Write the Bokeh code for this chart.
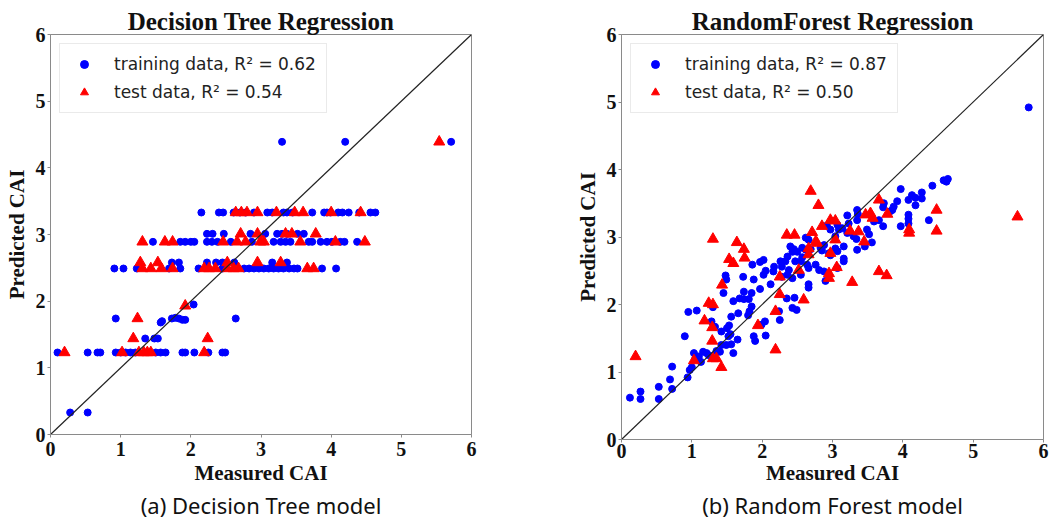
from bokeh.plotting import figure
from bokeh.layouts import row
from bokeh.models import Title, Legend, LegendItem, FixedTicker, Range1d
from bokeh.embed import file_html
from bokeh.resources import INLINE

axis_ticks = [0, 1, 2, 3, 4, 5, 6]
diag = [0, 6]

# ---------------- Decision Tree (left) ----------------
dt_train_x = [3.30, 4.20, 5.71,
              2.15, 2.40, 2.46, 2.61, 2.70, 2.78, 2.90, 3.09, 3.16, 3.32, 3.37, 3.45, 3.73, 3.90, 3.94, 3.99, 4.10, 4.16, 4.25, 4.40, 4.56, 4.63,
              2.23, 2.31, 2.47, 2.85, 3.06, 3.23, 3.30, 3.37, 3.52, 3.61,
              1.46, 1.85, 1.92, 2.00, 2.05, 2.23, 2.30, 2.38, 2.57, 2.87, 3.18, 3.28, 3.35, 3.42, 3.68, 3.73, 3.85, 3.94, 4.01, 4.13, 4.19, 4.37,
              1.73, 1.83, 2.23, 2.36, 2.45, 2.62, 3.16, 3.37,
              0.91, 1.04, 1.23, 1.69, 1.85, 2.11, 2.45, 2.76, 2.83, 2.90, 2.97, 3.04, 3.11, 3.18, 3.25, 3.32, 3.40, 3.47, 3.52, 3.87, 4.07,
              2.04, 0.93, 2.64, 1.73, 1.78, 1.83, 1.88, 1.92, 1.57, 1.59, 1.35, 1.48, 1.53,
              0.10, 0.53, 0.67, 0.71, 0.93, 1.00, 1.07, 1.14, 1.21, 1.50, 1.57, 1.64, 1.88, 1.92, 2.05, 2.25, 2.45, 2.49,
              0.28, 0.53]
dt_train_y = [4.39, 4.39, 4.39,
              3.33, 3.33, 3.33, 3.33, 3.33, 3.33, 3.33, 3.33, 3.33, 3.33, 3.33, 3.33, 3.33, 3.33, 3.33, 3.33, 3.33, 3.33, 3.33, 3.33, 3.33, 3.33,
              3.01, 3.01, 3.01, 3.01, 3.01, 3.01, 3.01, 3.01, 3.01, 3.01,
              2.89, 2.89, 2.89, 2.89, 2.89, 2.89, 2.89, 2.89, 2.89, 2.89, 2.89, 2.89, 2.89, 2.89, 2.89, 2.89, 2.89, 2.89, 2.89, 2.89, 2.89, 2.89,
              2.58, 2.58, 2.58, 2.58, 2.58, 2.58, 2.58, 2.58,
              2.49, 2.49, 2.49, 2.49, 2.49, 2.49, 2.49, 2.49, 2.49, 2.49, 2.49, 2.49, 2.49, 2.49, 2.49, 2.49, 2.49, 2.49, 2.49, 2.49, 2.49,
              1.95, 1.74, 1.74, 1.74, 1.75, 1.74, 1.72, 1.72, 1.68, 1.70, 1.44, 1.44, 1.44,
              1.23, 1.23, 1.23, 1.23, 1.23, 1.23, 1.23, 1.23, 1.23, 1.23, 1.23, 1.23, 1.23, 1.23, 1.23, 1.23, 1.23, 1.23,
              0.33, 0.33]

dt_test_x = [5.54,
             2.64, 2.72, 2.80, 2.95, 3.22, 3.48, 3.60, 4.00, 4.42,
             2.71, 2.95, 3.35, 3.44, 3.78,
             1.31, 1.63, 1.74, 2.46, 2.66, 2.78, 2.99, 3.04, 3.56, 4.06, 4.48,
             1.28, 1.53, 2.52, 2.95, 3.28,
             1.31, 1.43, 1.58, 1.74, 2.19, 2.26, 2.35, 2.52, 2.61, 2.68, 3.66, 3.75,
             1.92, 1.24, 1.18, 2.24,
             0.20, 1.02, 1.26, 1.33, 1.38, 1.43, 2.19]
dt_test_y = [4.39,
             3.33, 3.33, 3.33, 3.33, 3.33, 3.33, 3.33, 3.33, 3.33,
             3.01, 3.01, 3.01, 3.01, 3.01,
             2.89, 2.89, 2.89, 2.89, 2.89, 2.89, 2.89, 2.89, 2.89, 2.89, 2.89,
             2.58, 2.58, 2.58, 2.58, 2.58,
             2.49, 2.49, 2.49, 2.49, 2.49, 2.49, 2.49, 2.49, 2.49, 2.49, 2.49, 2.49,
             1.93, 1.74, 1.44, 1.44,
             1.23, 1.23, 1.23, 1.23, 1.23, 1.23, 1.23]

# ---------------- Random Forest (right) ----------------
rf_train_x = [0.12, 0.27, 0.27, 0.53, 0.53, 0.69, 0.72, 0.72, 0.94, 0.97, 1.00, 1.03, 1.10, 1.16, 1.21, 1.24,
              1.35, 1.40, 1.42, 1.49, 1.56, 1.65, 1.59, 1.52, 1.53, 0.90, 0.95, 1.07, 1.30, 1.28, 1.33, 1.42,
              1.56, 1.59, 1.68, 1.74, 1.81, 1.85, 1.82, 1.80, 1.66, 1.90, 2.05, 2.04, 2.24, 2.25, 2.35, 2.46,
              2.49, 1.85, 1.45, 1.88, 1.55, 1.50, 2.43, 1.99, 1.05, 1.13,
              3.35, 3.36, 3.35, 3.21, 3.23, 3.07, 3.09, 3.04, 3.14, 2.92, 2.97, 3.21, 3.30, 3.34, 3.35, 3.16,
              3.04, 3.07, 2.95, 2.97, 3.16, 3.16, 3.07, 2.83, 2.88, 2.85, 2.62, 2.66, 2.57, 2.62, 2.69, 2.40,
              2.45, 2.43, 2.50, 2.55, 2.57, 2.47, 2.36, 2.33, 2.26, 2.28, 2.38, 2.64, 2.66, 2.76, 2.81, 2.88,
              2.55, 2.43, 2.17, 2.16, 2.02, 1.97, 1.86, 2.05, 2.02, 2.28, 2.36, 2.12, 1.88, 1.73, 1.48, 1.49,
              1.74, 1.97, 2.66, 2.66, 2.90,
              5.79, 4.58, 4.62, 4.64, 4.42, 3.97, 4.13, 4.18, 4.27, 4.27, 4.08, 4.18, 3.92, 3.87, 3.85, 3.82,
              3.73, 3.72, 4.08, 4.08, 4.08, 3.97, 4.37, 3.72, 3.59, 3.66, 3.49, 3.52, 3.56, 3.46]
rf_train_y = [0.62, 0.71, 0.60, 0.78, 0.60, 0.89, 0.75, 1.08, 0.92, 1.03, 1.07, 1.28, 1.23, 1.30, 1.28, 1.25,
              1.31, 1.30, 1.40, 1.40, 1.41, 1.48, 1.28, 1.53, 1.69, 1.53, 1.89, 1.91, 1.96, 1.75, 1.67, 1.60,
              1.82, 2.05, 2.09, 2.08, 2.08, 1.97, 1.90, 1.84, 1.87, 1.46, 1.54, 1.75, 1.90, 1.77, 2.09, 2.10,
              1.92, 2.17, 2.17, 1.53, 1.56, 1.65, 1.95, 1.70, 1.20, 1.15,
              3.40, 3.34, 3.25, 3.32, 3.20, 3.18, 3.11, 3.01, 3.13, 3.17, 3.11, 3.06, 3.01, 2.97, 2.81, 2.86,
              2.83, 2.79, 2.76, 2.73, 2.68, 2.64, 2.54, 2.84, 2.88, 2.80, 2.99, 2.96, 2.84, 2.81, 2.82, 2.86,
              2.82, 2.78, 2.78, 2.64, 2.70, 2.64, 2.71, 2.64, 2.64, 2.56, 2.51, 2.59, 2.54, 2.59, 2.51, 2.49,
              2.44, 2.39, 2.56, 2.49, 2.66, 2.63, 2.59, 2.50, 2.44, 2.41, 2.44, 2.30, 2.37, 2.41, 2.43, 2.37,
              2.19, 2.23, 2.30, 2.25, 2.35,
              4.92, 3.84, 3.82, 3.86, 3.76, 3.71, 3.62, 3.58, 3.66, 3.57, 3.55, 3.47, 3.53, 3.45, 3.40, 3.38,
              3.50, 3.44, 3.33, 3.27, 3.20, 3.16, 3.25, 3.16, 3.23, 3.25, 3.11, 3.04, 2.92, 2.86]

rf_test_x = [0.20, 1.03, 1.24, 1.30, 1.18, 1.29, 1.29, 1.30, 1.35, 1.42, 2.19, 1.30,
             2.69, 2.80, 1.64, 1.74, 1.75, 1.53, 1.59, 1.43, 2.35, 2.46, 2.71, 2.85, 2.97, 3.04,
             2.66, 2.76, 2.78, 2.66, 2.97, 3.04, 3.25, 3.37, 2.25, 2.52, 2.25, 2.59, 2.19, 1.94,
             2.95, 2.95, 3.06, 3.28,
             3.66, 3.54, 3.47, 3.57, 3.78, 4.48, 4.48, 4.09, 4.09, 5.63, 3.45, 3.66, 3.77]
rf_test_y = [1.23, 1.17, 2.02, 2.00, 1.76, 1.66, 1.46, 1.20, 1.20, 1.07, 1.33, 2.97,
             3.68, 3.47, 2.92, 2.82, 2.69, 2.67, 2.61, 2.29, 3.03, 3.03, 3.07, 3.16, 3.25, 3.24,
             2.83, 2.93, 2.91, 2.74, 2.76, 2.96, 3.09, 3.08, 2.41, 2.51, 2.15, 2.07, 1.90, 1.69,
             2.46, 2.39, 2.55, 2.33,
             3.55, 3.35, 3.33, 3.28, 3.34, 3.40, 3.09, 3.06, 3.11, 3.30, 2.93, 2.49, 2.43]

titles = ["Decision Tree Regression", "RandomForest Regression"]
captions = ["(a) Decision Tree model", "(b) Random Forest model"]
train_labels = ["training data, R² = 0.62", "training data, R² = 0.87"]
test_labels = ["test data, R² = 0.54", "test data, R² = 0.50"]

SERIF = "Liberation Serif"
FRAME_GRAY = "#8a8a8a"


def make_panel(title, caption, tx, ty, sx, sy, lab_train, lab_test,
               fw, fh, bl, br, bt, bb, xl_standoff, xa_standoff):
    p = figure(frame_width=fw, frame_height=fh, output_backend="svg",
               toolbar_location=None, x_range=Range1d(0, 6), y_range=Range1d(0, 6),
               min_border_left=bl, min_border_right=br, min_border_top=bt,
               min_border_bottom=bb, background_fill_color="white",
               border_fill_color="white")
    p.title = Title(text=title, align="center", text_font=SERIF,
                    text_font_style="bold", text_font_size="25px",
                    text_color="#111111", standoff=0, offset=0)
    p.outline_line_color = FRAME_GRAY
    p.outline_line_width = 1
    p.xgrid.visible = False
    p.ygrid.visible = False
    for ax in (p.xaxis[0], p.yaxis[0]):
        ax.ticker = FixedTicker(ticks=axis_ticks)
        ax.axis_line_color = FRAME_GRAY
        ax.major_tick_line_color = FRAME_GRAY
        ax.major_tick_out = 3
        ax.major_tick_in = 0
        ax.minor_tick_line_color = None
        ax.major_label_text_font = SERIF
        ax.major_label_text_font_style = "bold"
        ax.major_label_text_font_size = "20px"
        ax.major_label_text_color = "#111111"
        ax.axis_label_text_font = SERIF
        ax.axis_label_text_font_style = "bold"
        ax.axis_label_text_font_size = "21px"
        ax.axis_label_text_color = "#111111"
    p.xaxis.major_label_standoff = xl_standoff
    p.xaxis.axis_label_standoff = xa_standoff
    p.yaxis.major_label_standoff = 2
    p.yaxis.axis_label_standoff = 4
    p.xaxis.axis_label = "Measured CAI"
    p.yaxis.axis_label = "Predicted CAI"

    r1 = p.scatter(tx, ty, marker="circle", size=7, color="#0000ff")
    r2 = p.scatter(sx, sy, marker="triangle", size=11, color="#ff0000")
    p.line(diag, diag, line_color="#222222", line_width=1.2)

    legend = Legend(items=[LegendItem(label=lab_train, renderers=[r1]),
                           LegendItem(label=lab_test, renderers=[r2])],
                    location="top_left", margin=9, padding=10, spacing=8,
                    glyph_width=28, glyph_height=20, label_standoff=16,
                    label_height=20, label_text_font="DejaVu Sans",
                    label_text_font_size="17px", label_text_color="#222222",
                    border_line_color="#d6d6d6", border_line_width=1,
                    background_fill_color="white", background_fill_alpha=0.9)
    p.add_layout(legend)

    cap = Title(text=caption, align="center", text_font="Noto Sans",
                text_font_size="22px", text_font_style="normal",
                text_color="#111111", standoff=0, offset=0)
    p.add_layout(cap, "below")
    return p


p1 = make_panel(titles[0], captions[0], dt_train_x, dt_train_y, dt_test_x, dt_test_y,
                train_labels[0], test_labels[0], 421, 400, 50, 57, 34, 86, 4, 2)
p2 = make_panel(titles[1], captions[1], rf_train_x, rf_train_y, rf_test_x, rf_test_y,
                train_labels[1], test_labels[1], 422, 405, 93, 12, 33, 82, 1, 0)

layout = row(p1, p2)
open("out.html", "w").write(file_html(layout, INLINE))
